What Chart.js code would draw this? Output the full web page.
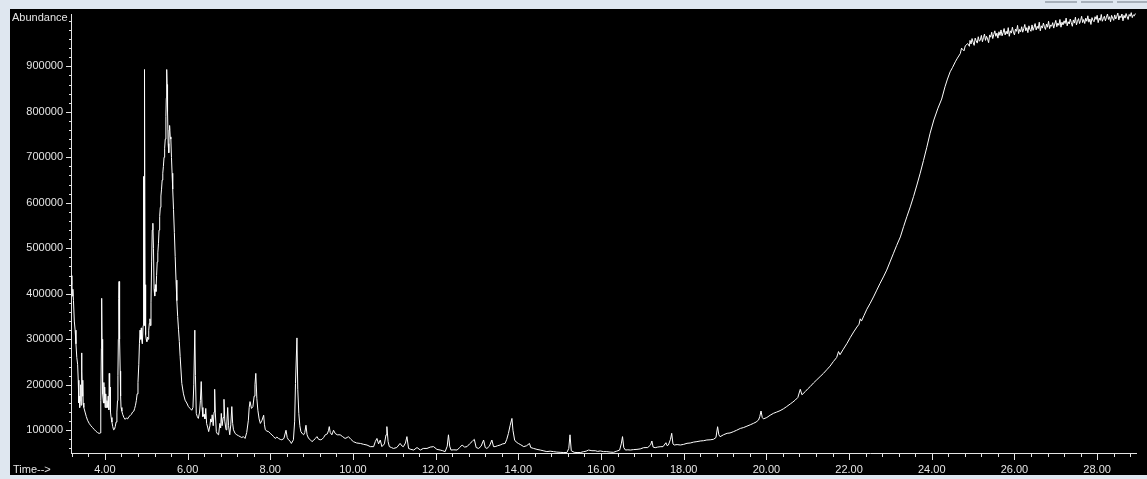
<!DOCTYPE html>
<html>
<head>
<meta charset="utf-8">
<title>TIC</title>
<script src="https://cdn.jsdelivr.net/npm/chart.js@4.4.1/dist/chart.umd.min.js"></script>
<style>
  html, body { margin: 0; padding: 0; }
  body { width: 1147px; height: 479px; background: #dfe7f0; position: relative; overflow: hidden; }
  #plot { position: absolute; left: 10px; top: 9px; width: 1137px; height: 466px; background: #000; }
  .winbtn { position: absolute; top: 1px; height: 2px; background: #a7b0ba; }
</style>
</head>
<body>
<div class="winbtn" style="left:1045px;width:32px"></div>
<div class="winbtn" style="left:1081px;width:32px"></div>
<div class="winbtn" style="left:1117px;width:30px"></div>
<div id="plot"><canvas id="tic" width="1137" height="466"></canvas></div>
<script>
// retention time (min) and abundance
const retentionTime = [
  // solvent front / early peaks
  3.19, 3.20, 3.21, 3.225, 3.24, 3.26, 3.28, 3.30, 3.32, 3.34,
  3.355, 3.37, 3.38, 3.39, 3.40, 3.415, 3.425, 3.435, 3.445, 3.455,
  3.465, 3.475, 3.49, 3.52, 3.55, 3.58, 3.62, 3.66, 3.70, 3.74,
  3.78, 3.82, 3.86, 3.885, 3.895, 3.905, 3.915, 3.922, 3.93, 3.94,
  3.95, 3.965, 3.975, 3.985, 3.995, 4.005, 4.02, 4.035, 4.05, 4.065,
  4.08, 4.095, 4.105, 4.115, 4.125, 4.135, 4.15, 4.17, 4.19, 4.21,
  4.23, 4.25, 4.27, 4.29, 4.305, 4.315, 4.325, 4.335, 4.342, 4.35,
  // big peaks 4.9 - 5.8
  4.36, 4.37, 4.38, 4.39, 4.41, 4.43, 4.46, 4.49, 4.52, 4.55,
  4.58, 4.61, 4.64, 4.67, 4.70, 4.72, 4.74, 4.76, 4.78, 4.80,
  4.82, 4.835, 4.85, 4.865, 4.88, 4.89, 4.905, 4.925, 4.936, 4.946,
  4.958, 4.972, 4.985, 5.00, 5.015, 5.03, 5.045, 5.06, 5.075, 5.09,
  5.10, 5.115, 5.13, 5.145, 5.16, 5.175, 5.19, 5.205, 5.22, 5.235,
  5.25, 5.265, 5.28, 5.295, 5.31, 5.325, 5.34, 5.355, 5.37, 5.385,
  5.40, 5.415, 5.43, 5.445, 5.46, 5.475, 5.485, 5.495, 5.505, 5.515,
  5.53, 5.545, 5.555, 5.565, 5.58, 5.595, 5.61, 5.625, 5.64, 5.66,
  5.68, 5.70, 5.72, 5.74, 5.76, 5.78, 5.80, 5.82,
  // 5.9 - 8.7
  5.86, 5.90, 5.94, 5.98, 6.02, 6.06, 6.10, 6.13, 6.15, 6.175,
  6.19, 6.21, 6.235, 6.26, 6.29, 6.31, 6.33, 6.35, 6.37, 6.40,
  6.42, 6.44, 6.46, 6.49, 6.51, 6.54, 6.56, 6.58, 6.595, 6.62,
  6.64, 6.655, 6.67, 6.695, 6.72, 6.75, 6.78, 6.80, 6.815, 6.835,
  6.86, 6.88, 6.90, 6.93, 6.95, 6.97, 6.99, 7.02, 7.045, 7.07,
  7.09, 7.11, 7.15, 7.19, 7.23, 7.27, 7.31, 7.35, 7.39, 7.43,
  7.47, 7.49, 7.51, 7.545, 7.58, 7.61, 7.63, 7.65, 7.675, 7.70,
  7.73, 7.76, 7.80, 7.84, 7.86, 7.88, 7.92, 7.96, 8.00, 8.04,
  8.08, 8.12, 8.16, 8.20, 8.24, 8.28, 8.33, 8.38, 8.41, 8.44,
  8.48, 8.51, 8.56, 8.59, 8.61, 8.645, 8.665, 8.69, 8.715, 8.74,
  // baseline 8.8 - 15.5
  8.78, 8.806, 8.835, 8.863, 8.89, 8.927, 8.96, 9.008, 9.05, 9.09,
  9.129, 9.17, 9.209, 9.25, 9.29, 9.33, 9.38, 9.41, 9.427, 9.45,
  9.49, 9.53, 9.57, 9.62, 9.69, 9.75, 9.81, 9.86, 9.89, 9.95,
  10.01, 10.09, 10.18, 10.26, 10.34, 10.42, 10.50, 10.54, 10.58, 10.62,
  10.66, 10.70, 10.76, 10.80, 10.82, 10.85, 10.88, 10.93, 10.98, 11.06,
  11.14, 11.19, 11.22, 11.27, 11.305, 11.345, 11.40, 11.47, 11.55, 11.63,
  11.70, 11.79, 11.87, 11.95, 12.03, 12.11, 12.17, 12.23, 12.28, 12.31,
  12.34, 12.37, 12.44, 12.52, 12.58, 12.64, 12.70, 12.76, 12.82, 12.88,
  12.91, 12.935, 12.98, 13.04, 13.10, 13.16, 13.20, 13.24, 13.30, 13.36,
  13.40, 13.44, 13.50, 13.56, 13.62, 13.68, 13.72, 13.76, 13.80, 13.845,
  13.87, 13.91, 13.95, 14.00, 14.06, 14.13, 14.20, 14.27, 14.30, 14.37,
  14.45, 14.53, 14.60, 14.69, 14.77, 14.85, 14.93, 15.01, 15.10, 15.175,
  15.22, 15.25, 15.28, 15.35, 15.42, 15.50,
  // column bleed starts
  15.58, 15.64, 15.70, 15.78, 15.86, 15.92, 15.98, 16.06, 16.14, 16.22,
  16.30, 16.38, 16.45, 16.49, 16.52, 16.55, 16.59, 16.65, 16.71, 16.79,
  16.87, 16.95, 17.03, 17.13, 17.20, 17.23, 17.26, 17.31, 17.37, 17.43,
  17.50, 17.57, 17.60, 17.63, 17.68, 17.71, 17.74, 17.77, 17.84, 17.92,
  18.00, 18.08, 18.16, 18.24, 18.32, 18.40, 18.48, 18.56, 18.64, 18.72,
  18.78, 18.82, 18.85, 18.88, 18.96, 19.05, 19.12, 19.20, 19.28, 19.37,
  19.45, 19.53, 19.61, 19.69, 19.75, 19.81, 19.84, 19.87, 19.90, 19.93,
  20.01, 20.09, 20.17, 20.25, 20.33, 20.41, 20.49, 20.58, 20.64, 20.70,
  20.76, 20.82,
  // steep rise
  20.86, 20.94, 21.00, 21.06, 21.14, 21.22, 21.30, 21.38, 21.46, 21.54,
  21.62, 21.70, 21.745, 21.78, 21.86, 21.95, 22.03, 22.11, 22.19, 22.24,
  22.27, 22.30, 22.36, 22.43, 22.51, 22.59, 22.67, 22.75, 22.83, 22.91,
  22.99, 23.07, 23.15, 23.24, 23.32, 23.40, 23.48, 23.56, 23.64, 23.72,
  23.80, 23.88, 23.96, 24.05, 24.15, 24.24,
  24.32, 24.38, 24.445, 24.50, 24.57, 24.62, 24.69, 24.72, 24.78, 24.81,
  24.87, 24.91,
  // plateau
  24.925, 24.95, 24.975, 25.00, 25.025, 25.05, 25.075, 25.10, 25.125, 25.15,
  25.175, 25.20, 25.225, 25.25, 25.275, 25.30, 25.325, 25.35, 25.375, 25.40,
  25.425, 25.45, 25.475, 25.50, 25.525, 25.55, 25.575, 25.60, 25.625, 25.65,
  25.675, 25.70, 25.725, 25.75, 25.775, 25.80, 25.825, 25.85, 25.875, 25.90,
  25.925, 25.95, 25.975, 26.00, 26.025, 26.05, 26.075, 26.10, 26.125, 26.15,
  26.175, 26.20, 26.225, 26.25, 26.275, 26.30, 26.325, 26.35, 26.375, 26.40,
  26.425, 26.45, 26.475, 26.50, 26.525, 26.55, 26.575, 26.60, 26.625, 26.65,
  26.675, 26.70, 26.725, 26.75, 26.775, 26.80, 26.825, 26.85, 26.875, 26.90,
  26.925, 26.95, 26.975, 27.00, 27.025, 27.05, 27.075, 27.10, 27.125, 27.15,
  27.175, 27.20, 27.225, 27.25, 27.275, 27.30, 27.325, 27.35, 27.375, 27.40,
  27.425, 27.45, 27.475, 27.50, 27.525, 27.55, 27.575, 27.60, 27.625, 27.65,
  27.675, 27.70, 27.725, 27.75, 27.775, 27.80, 27.825, 27.85, 27.875, 27.90,
  27.925, 27.95, 27.975, 28.00, 28.025, 28.05, 28.075, 28.10, 28.125, 28.15,
  28.175, 28.20, 28.225, 28.25, 28.275, 28.30, 28.325, 28.35, 28.375, 28.40,
  28.425, 28.45, 28.475, 28.50, 28.525, 28.55, 28.575, 28.60, 28.625, 28.65,
  28.675, 28.70, 28.725, 28.75, 28.775, 28.80, 28.825, 28.85, 28.875, 28.90,
  28.925
];

const abundance = [
  420000, 440000, 395000, 410000, 385000, 340000, 320000, 290000, 260000, 245000,
  210000, 160000, 175000, 150000, 165000, 200000, 155000, 270000, 230000, 175000,
  210000, 160000, 150000, 140000, 130000, 122000, 115000, 110000, 106000, 102000,
  98000, 95000, 93000, 94000, 130000, 165000, 280000, 390000, 300000, 230000,
  180000, 160000, 205000, 160000, 195000, 150000, 180000, 150000, 165000, 150000,
  175000, 145000, 225000, 175000, 195000, 140000, 128000, 118000, 108000, 101000,
  102000, 108000, 118000, 140000, 165000, 220000, 300000, 390000, 427000, 360000,

  300000, 230000, 175000, 150000, 142000, 135000, 128000, 124000, 127000, 125000,
  130000, 132000, 135000, 140000, 142000, 148000, 155000, 165000, 180000, 205000,
  245000, 290000, 320000, 300000, 325000, 300000, 290000, 330000, 658000, 330000,
  893000, 420000, 310000, 300000, 295000, 305000, 300000, 320000, 335000, 345000,
  330000, 380000, 470000, 540000, 555000, 500000, 410000, 395000, 420000, 405000,
  440000, 470000, 490000, 510000, 540000, 570000, 590000, 615000, 630000, 650000,
  665000, 680000, 700000, 720000, 740000, 790000, 830000, 893000, 860000, 800000,
  730000, 710000, 760000, 770000, 745000, 740000, 700000, 665000, 630000, 585000,
  535000, 482000, 430000, 385000, 350000, 322000, 295000, 262000,

  203000, 180000, 166000, 160000, 152000, 148000, 144000, 150000, 200000, 320000,
  220000, 137000, 130000, 126000, 140000, 165000, 207000, 150000, 130000, 135000,
  125000, 148000, 115000, 105000, 97000, 110000, 125000, 118000, 134000, 110000,
  140000, 190000, 140000, 97000, 92000, 90000, 115000, 105000, 137000, 110000,
  128000, 168000, 120000, 101000, 118000, 150000, 110000, 90000, 112000, 152000,
  115000, 101000, 93000, 90000, 88000, 86000, 84000, 86000, 82000, 95000,
  122000, 150000, 163000, 148000, 152000, 175000, 200000, 225000, 170000, 144000,
  125000, 115000, 122000, 133000, 112000, 101000, 98000, 97000, 93000, 90000,
  86000, 82000, 85000, 82000, 80000, 79000, 82000, 100000, 84000, 79000,
  76000, 71000, 79000, 120000, 203000, 303000, 190000, 137000, 110000, 97000,

  92000, 90000, 95000, 111000, 90000, 82000, 80000, 75000, 78000, 82000,
  86000, 80000, 79000, 80000, 84000, 90000, 92000, 100000, 108000, 95000,
  90000, 100000, 93000, 90000, 90000, 86000, 82000, 84000, 86000, 80000,
  75000, 72000, 71000, 69000, 67500, 64000, 64000, 75000, 82000, 70000,
  78500, 64000, 70000, 90000, 108000, 75000, 64000, 62000, 60000, 62000,
  71000, 65000, 64000, 72000, 86000, 60000, 58000, 56500, 62000, 56500,
  60000, 60000, 63000, 64000, 58000, 56500, 55000, 53000, 65000, 90000,
  65000, 56500, 57000, 56500, 62000, 67500, 63000, 64000, 70000, 75000,
  78000, 80000, 62000, 60000, 65000, 78500, 62000, 60000, 65000, 78500,
  64000, 64000, 66000, 67500, 70000, 71000, 80000, 93000, 110000, 126000,
  100000, 78500, 74000, 71000, 68000, 64000, 66000, 71000, 62000, 60000,
  58000, 56500, 55000, 53000, 54000, 53000, 52000, 51500, 51000, 51000,
  60000, 90000, 55000, 51500, 51000, 51000,

  53000, 54000, 56500, 55000, 55000, 53500, 54500, 53000, 53000, 52000,
  51500, 54000, 56500, 70000, 86000, 62000, 56500, 57000, 56500, 57500,
  58000, 59000, 61700, 62000, 68000, 76400, 63000, 61700, 63000, 63800,
  64000, 72600, 66000, 67600, 80000, 93300, 70000, 67600, 68500, 67600,
  69000, 71300, 72000, 74000, 75000, 76400, 77000, 78600, 79000, 80100,
  84000, 107800, 90000, 85800, 90000, 93300, 94000, 96800, 100000, 104000,
  106000, 109000, 112000, 115300, 118000, 122500, 130000, 142300, 128000, 125000,
  128000, 133000, 137200, 140000, 143000, 147000, 152000, 158000, 162000, 166500,
  172000, 190000,

  178000, 185000, 191000, 196000, 204000, 211000, 218000, 225000, 233000, 241000,
  251000, 260000, 273000, 266000, 278000, 291000, 304000, 316000, 327000, 333000,
  345000, 340000, 352000, 366000, 379000, 393000, 408000, 423000, 437000, 452000,
  470000, 488000, 506000, 525000, 548000, 570000, 591000, 614000, 639000, 665000,
  693000, 722000, 753000, 782000, 808000, 828000,
  855000, 872000, 888000, 897000, 910000, 918000, 928000, 940000, 934000, 945000,
  950000, 944000,

  957000, 949000, 961000, 953000, 946000, 962000, 956000, 951000, 965000, 955000,
  958000, 968000, 954000, 963000, 971000, 957000, 966000, 960000, 952000, 969000,
  964000, 975000, 961000, 970000, 978000, 966000, 973000, 962000, 976000, 968000,
  980000, 967000, 974000, 983000, 969000, 977000, 971000, 985000, 966000, 978000,
  973000, 986000, 975000, 969000, 982000, 977000, 990000, 972000, 981000, 976000,
  987000, 975000, 983000, 992000, 978000, 985000, 974000, 989000, 981000, 977000,
  991000, 979000, 986000, 994000, 980000, 988000, 983000, 997000, 978000, 989000,
  984000, 995000, 987000, 981000, 993000, 986000, 999000, 983000, 991000, 988000,
  996000, 984000, 993000, 1001000, 987000, 995000, 990000, 1003000, 986000, 997000,
  991000, 1000000, 994000, 1006000, 989000, 998000, 993000, 1004000, 996000, 988000,
  1002000, 995000, 1008000, 991000, 999000, 1005000, 994000, 1001000, 1010000, 996000,
  1003000, 994000, 1006000, 999000, 1011000, 997000, 1004000, 992000, 1007000, 1001000,
  998000, 1009000, 1003000, 1012000, 996000, 1006000, 1001000, 1014000, 999000, 1005000,
  1010000, 1000000, 1008000, 1015000, 1003000, 1009000, 998000, 1012000, 1006000, 1001000,
  1013000, 1004000, 1010000, 1017000, 1002000, 1011000, 1007000, 1015000, 1000000, 1012000,
  1006000, 1016000, 1009000, 1003000, 1014000, 1010000, 1018000, 1007000, 1013000, 1011000,
  1016000
];

// axis ranges and tick marks
const timeRange = [3.18, 28.94];
const abundanceRange = [50000, 1015000];
const timeLabelTicks = [4, 6, 8, 10, 12, 14, 16, 18, 20, 22, 24, 26, 28];
const abundanceLabelTicks = [100000, 200000, 300000, 400000, 500000, 600000, 700000, 800000, 900000];
const timeMinorStep = 0.4;
const abundanceMinorStep = 20000;

if (retentionTime.length !== abundance.length) {
  console.warn('length mismatch', retentionTime.length, abundance.length);
}

const AXIS_COLOR = '#e4e4e4';
const FONT_FAMILY = '"Liberation Sans", Arial, sans-serif';

const near = (a, b) => Math.abs(a - b) < 1e-6;

function stepTicks(min, max, step) {
  const out = [];
  for (let k = Math.ceil(min / step - 1e-9); k * step <= max + 1e-9; k++) {
    out.push({ value: Math.round(k * step * 1000) / 1000 });
  }
  return out;
}

// tick marks (long at labelled values) and corner captions
const tickMarks = {
  id: 'tickMarks',
  afterDraw(chart) {
    const { ctx, chartArea, scales } = chart;
    ctx.save();
    ctx.strokeStyle = AXIS_COLOR;
    ctx.lineWidth = 1;
    ctx.beginPath();
    scales.x.ticks.forEach(t => {
      const px = Math.round(scales.x.getPixelForValue(t.value)) + 0.5;
      const len = timeLabelTicks.some(v => near(v, t.value)) ? 7 : 4;
      ctx.moveTo(px, chartArea.bottom);
      ctx.lineTo(px, chartArea.bottom + len);
    });
    scales.y.ticks.forEach(t => {
      const py = Math.round(scales.y.getPixelForValue(t.value)) + 0.5;
      const len = abundanceLabelTicks.some(v => near(v, t.value)) ? 5 : 2;
      ctx.moveTo(chartArea.left - len, py);
      ctx.lineTo(chartArea.left, py);
    });
    ctx.stroke();

    ctx.fillStyle = AXIS_COLOR;
    ctx.font = '11px ' + FONT_FAMILY;
    ctx.textAlign = 'left';
    ctx.textBaseline = 'middle';
    ctx.fillText('Abundance', 2, chartArea.top + 4);
    ctx.fillText('Time-->', 3, chartArea.bottom + 17);
    ctx.restore();
  }
};

new Chart(document.getElementById('tic'), {
  type: 'line',
  data: {
    datasets: [{
      data: retentionTime.map((t, i) => ({ x: t, y: abundance[i] })),
      borderColor: '#ffffff',
      borderWidth: 1,
      pointRadius: 0,
      tension: 0,
      fill: false,
      clip: 8
    }]
  },
  options: {
    responsive: false,
    animation: false,
    devicePixelRatio: 1,
    events: [],
    layout: { padding: { top: 5, right: 11, left: 0, bottom: 0 } },
    plugins: {
      legend: { display: false },
      tooltip: { enabled: false }
    },
    scales: {
      x: {
        type: 'linear',
        min: timeRange[0],
        max: timeRange[1],
        grid: { display: true, drawOnChartArea: false, drawTicks: false },
        border: { display: true, color: AXIS_COLOR, width: 1 },
        ticks: {
          color: AXIS_COLOR,
          font: { family: FONT_FAMILY, size: 11 },
          padding: 10,
          autoSkip: false,
          maxRotation: 0,
          callback: v => timeLabelTicks.some(m => near(m, v)) ? v.toFixed(2) : ''
        },
        afterBuildTicks: s => { s.ticks = stepTicks(timeRange[0], timeRange[1], timeMinorStep); },
        afterFit: s => { s.height = 22; s.paddingLeft = 0; s.paddingRight = 0; }
      },
      y: {
        type: 'linear',
        min: abundanceRange[0],
        max: abundanceRange[1],
        grid: { display: true, drawOnChartArea: false, drawTicks: false },
        border: { display: true, color: AXIS_COLOR, width: 1 },
        ticks: {
          color: AXIS_COLOR,
          font: { family: FONT_FAMILY, size: 11 },
          padding: 8,
          autoSkip: false,
          callback: v => abundanceLabelTicks.some(m => near(m, v)) ? String(v) : ''
        },
        afterBuildTicks: s => { s.ticks = stepTicks(60000, 1000000, abundanceMinorStep); },
        afterFit: s => { s.width = 61; s.paddingTop = 0; s.paddingBottom = 0; }
      }
    }
  },
  plugins: [tickMarks]
});
</script>
</body>
</html>
